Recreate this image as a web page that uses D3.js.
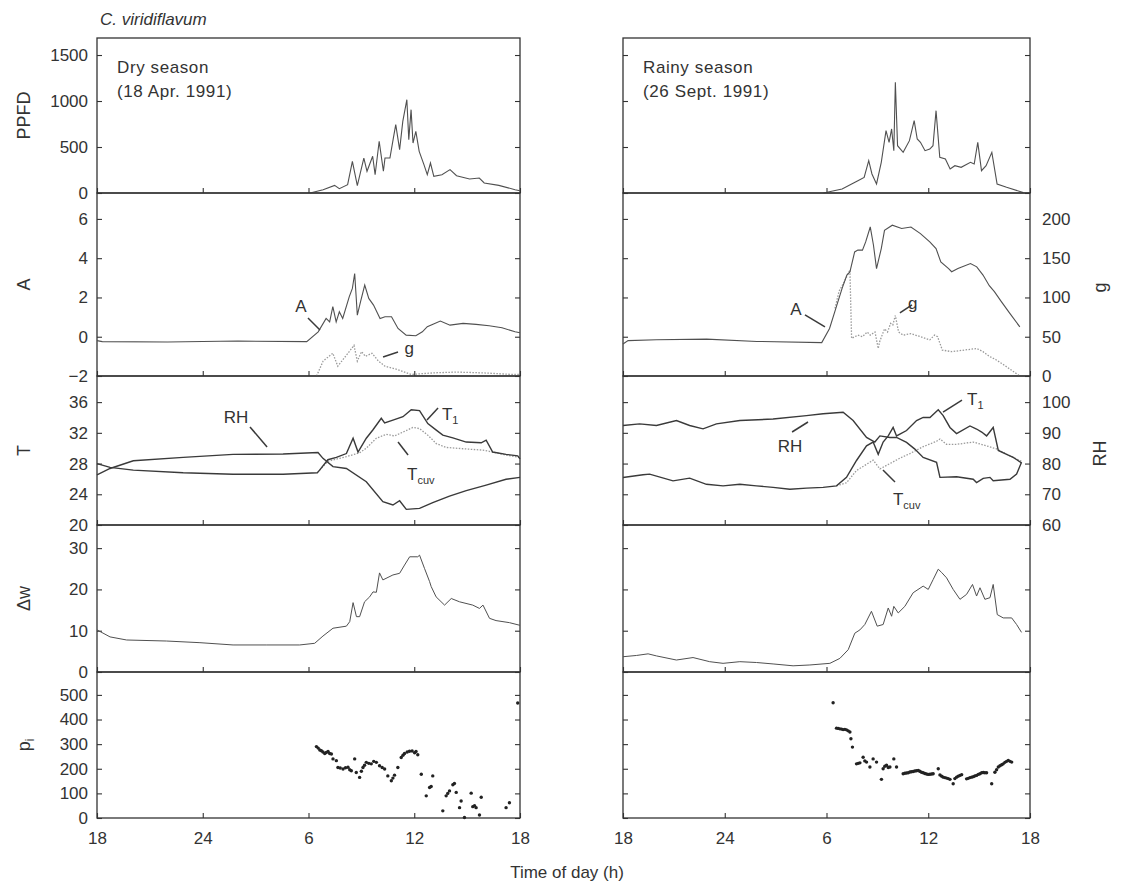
<!DOCTYPE html>
<html>
<head>
<meta charset="utf-8">
<script src="https://cdn.jsdelivr.net/npm/d3@7"></script>
<style>
  body { margin: 0; background: #fff; }
  text { font-family: "Liberation Sans", Arial, sans-serif; fill: #333; }
</style>
</head>
<body>
<svg width="1146" height="888"></svg>
<script>
// time is in hours since 18:00 of the first day (0..24)
const xTicks = [0, 6, 12, 18, 24];
const xTickLabels = ["18", "24", "6", "12", "18"];

// ---- dry season (18 Apr. 1991)
const dryPPFD = [[12.09,0],[12.83,36],[13.48,83],[13.75,47],[14.22,91],[14.49,344],[14.77,80],[15.14,380],[15.32,236],[15.64,399],[15.78,199],[16.01,562],[16.25,236],[16.34,380],[16.62,380],[16.8,580],[16.95,743],[17.17,471],[17.35,779],[17.58,1014],[17.69,580],[17.82,906],[17.93,543],[18.09,670],[18.28,453],[18.55,308],[18.74,199],[18.92,326],[19.11,181],[19.57,199],[20.03,254],[20.4,188],[21.14,152],[21.69,163],[21.97,109],[22.8,83],[23.72,36],[24,25]];
const dryA = [[0,-0.2],[0.3,-0.25],[4,-0.27],[8,-0.22],[11.9,-0.25],[12.55,0.25],[13.0,0.93],[13.2,0.76],[13.38,1.53],[13.57,0.76],[13.75,1.27],[13.94,0.93],[14.31,2.03],[14.49,2.46],[14.62,3.22],[14.77,1.1],[14.95,1.78],[15.19,2.63],[15.42,1.95],[15.69,1.61],[16.06,0.93],[16.34,1.02],[16.71,1.02],[17.08,0.42],[17.54,0.08],[18.09,0.05],[18.46,0.25],[18.74,0.51],[19.48,0.8],[20.03,0.59],[20.77,0.68],[21.51,0.63],[22.25,0.56],[22.98,0.46],[23.72,0.25],[24,0.2]];
const dryG = [[12.46,0],[12.83,19],[13.38,29],[13.66,12.5],[14.03,23],[14.31,31],[14.58,39],[14.77,19],[15.01,31],[15.23,25],[15.6,29],[15.97,19],[16.34,12.5],[17.08,8],[17.82,2],[19.11,4],[20.4,5],[21.88,4],[23.54,2],[24,2]];
const dryT1 = [[0,28.0],[0.74,27.5],[2.06,27.15],[4.89,26.8],[7.72,26.6],[10.56,26.6],[12.5,26.8],[12.63,27.15],[13.1,28.5],[13.58,28.8],[14.15,29.3],[14.53,31.3],[14.81,29.5],[15.28,31.3],[15.66,32.4],[16.13,33.9],[16.32,33.3],[16.79,33.65],[17.36,34.1],[17.83,35.0],[18.3,34.9],[18.77,33.2],[19.25,32.35],[19.62,31.7],[20.19,31.35],[20.95,30.8],[21.8,30.7],[22.08,31.05],[22.45,29.5],[23.21,29.2],[23.87,29.0],[24,28.6]];
const dryTcuv = [[12.63,27.15],[13.1,28.3],[14.15,28.9],[14.9,29.4],[15.28,30.0],[15.85,31.3],[16.41,31.8],[16.88,31.6],[17.36,32.1],[17.92,32.7],[18.3,32.55],[18.77,31.7],[19.25,30.6],[19.81,30.1],[20.95,29.9],[21.9,29.75],[22.45,29.5],[23.21,29.1],[24,28.8]];
const dryRH = [[0,76.3],[0.74,78.4],[2.06,80.9],[4.89,82.0],[7.72,83.0],[10.56,83.1],[12.54,83.6],[12.82,81.7],[13.39,79.0],[14.15,78.4],[15.28,74.1],[16.22,67.6],[16.79,66.5],[17.17,67.9],[17.55,65.1],[18.3,65.4],[19.05,67.3],[20.0,69.4],[20.95,71.2],[22.08,73.0],[23.21,74.9],[24,75.5]];
const dryDw = [[0,10.2],[0.74,8.5],[1.68,7.75],[3.95,7.5],[5.84,7.1],[7.72,6.55],[9.6,6.55],[11.5,6.55],[12.35,6.95],[12.82,8.7],[13.39,10.6],[14.15,11.1],[14.34,12.2],[14.53,16.8],[14.72,13.4],[14.9,13.4],[15.18,17.0],[15.47,18.2],[15.66,19.4],[15.85,19.3],[16.03,24.0],[16.22,22.3],[16.79,23.5],[17.17,23.9],[17.45,25.9],[17.74,27.9],[18.2,27.9],[18.3,28.3],[18.58,25.1],[18.87,21.9],[18.96,20.7],[19.24,18.2],[19.72,16.2],[20.1,17.8],[20.57,17.0],[21.32,16.2],[21.7,15.4],[21.9,16.2],[22.27,13.0],[22.64,12.45],[23.4,11.95],[24,11.3]];
const dryPi = [[12.45,290],[12.55,284],[12.64,276],[12.73,273],[12.82,268],[12.92,262],[13.01,266],[13.11,270],[13.2,262],[13.3,260],[13.39,240],[13.58,233],[13.67,205],[13.8,203],[13.96,199],[14.1,204],[14.24,206],[14.34,196],[14.43,192],[14.62,240],[14.71,185],[14.9,165],[15.0,190],[15.09,205],[15.18,214],[15.28,226],[15.42,222],[15.56,220],[15.7,230],[15.85,226],[16.03,212],[16.18,205],[16.32,199],[16.5,171],[16.7,151],[16.79,162],[16.88,174],[17.07,205],[17.26,246],[17.36,255],[17.45,262],[17.6,268],[17.73,271],[17.88,272],[18.02,265],[18.1,270],[18.2,257],[18.4,178],[18.68,90],[18.87,124],[18.96,128],[19.05,171],[19.62,29],[19.81,90],[19.9,100],[20.0,110],[20.19,135],[20.28,140],[20.38,104],[20.57,42],[20.66,69],[20.85,2],[21.23,101],[21.32,46],[21.42,50],[21.51,42],[21.7,12],[21.8,84],[23.21,42],[23.4,62],[23.87,467]];

// ---- rainy season (26 Sept. 1991)
const rainyPPFD = [[11.82,0],[12.92,43],[13.85,134],[14.22,170],[14.49,351],[14.68,207],[14.95,98],[15.23,333],[15.51,678],[15.69,551],[15.84,696],[15.97,460],[16.06,1203],[16.19,514],[16.52,442],[16.89,569],[17.17,786],[17.35,587],[17.54,551],[17.81,460],[18.09,478],[18.28,514],[18.46,895],[18.68,388],[19.01,370],[19.29,261],[19.57,297],[19.94,279],[20.49,333],[20.71,315],[20.92,551],[21.14,243],[21.41,297],[21.75,442],[22.06,98],[22.62,62],[23.6,5]];
const rainyA = [[0,-0.37],[0.3,-0.2],[1.98,-0.15],[4.93,-0.12],[7.9,-0.24],[11.72,-0.3],[12.18,0.42],[12.55,1.44],[12.92,2.46],[13.2,3.14],[13.38,3.3],[13.66,4.32],[13.85,4.41],[14.12,4.41],[14.31,4.83],[14.58,5.59],[14.77,4.66],[14.95,3.47],[15.23,4.49],[15.42,5.42],[15.88,5.68],[16.43,5.51],[16.98,5.59],[17.54,5.25],[18.09,4.83],[18.46,4.49],[18.74,3.81],[19.2,3.47],[19.38,3.31],[19.75,3.47],[20.49,3.73],[20.86,3.56],[21.23,3.14],[21.6,2.6],[21.9,2.3],[22.3,1.8],[22.8,1.2],[23.4,0.5]];
const rainyG = [[12.5,86],[12.74,108],[13.0,118],[13.38,135],[13.48,48],[13.85,52],[14.12,50],[14.4,56],[14.58,52],[14.86,56],[15.05,35],[15.14,44],[15.42,60],[15.6,56],[15.78,67],[15.91,65],[16.06,77],[16.25,56],[16.52,52],[16.98,54],[17.54,50],[18.09,46],[18.37,52],[18.55,50],[18.83,33],[19.38,31],[20.12,33],[20.86,35],[21.23,31],[21.6,25],[21.97,21],[22.4,15],[23.4,0]];
const rainyT1 = [[0,26.19],[1.18,26.54],[1.57,26.62],[2.95,25.75],[3.93,26.1],[4.92,25.3],[5.9,25.1],[6.89,25.3],[7.87,25.1],[8.85,24.9],[9.84,24.65],[10.82,24.8],[11.8,24.9],[12.59,25.1],[13.18,26.2],[13.77,28.4],[14.36,30.3],[14.75,30.8],[15.05,29.2],[15.34,30.8],[15.64,31.6],[15.93,32.7],[16.13,31.6],[16.72,32.3],[17.31,33.6],[17.7,34.0],[18.1,34.0],[18.59,35.0],[18.88,34.25],[19.28,32.7],[19.67,31.9],[20.46,32.9],[20.85,32.5],[21.15,32.1],[21.44,31.6],[21.83,32.7],[22.13,29.7],[22.62,29.2],[23.01,28.8],[23.5,28.1]];
const rainyTcuv = [[12.59,25.1],[13.18,25.5],[13.77,27.1],[14.36,27.9],[14.75,28.45],[15.15,27.3],[15.74,28.0],[16.33,28.7],[16.92,29.3],[17.7,30.2],[18.49,30.9],[18.69,31.2],[19.08,30.5],[19.67,30.5],[20.65,30.8],[21.44,30.3],[22.03,29.9],[22.82,29.0],[23.5,28.3]];
const rainyRH = [[0,92.4],[0.98,92.9],[1.97,92.4],[3.15,94.0],[3.93,92.4],[4.72,91.3],[5.51,92.9],[6.89,94.0],[8.85,94.5],[10.82,95.6],[11.8,96.2],[12.98,96.7],[13.57,94.0],[14.36,88.5],[14.85,87.0],[15.15,89.0],[15.74,88.5],[16.13,88.5],[16.72,86.9],[17.21,84.7],[17.7,82.0],[18.49,80.4],[18.69,75.5],[19.67,75.7],[20.65,74.9],[20.85,73.8],[21.24,75.2],[21.64,75.5],[21.83,74.4],[22.82,74.9],[23.21,76.6],[23.5,80.4]];
const rainyDw = [[0,3.7],[0.79,4.0],[1.48,4.4],[1.97,3.9],[3.15,2.9],[4.13,3.5],[5.11,2.5],[5.9,2.1],[6.89,2.5],[7.87,2.3],[8.85,1.95],[10.03,1.5],[11.02,1.7],[12.2,2.1],[12.79,3.3],[13.28,5.4],[13.67,9.4],[13.97,10.2],[14.26,11.5],[14.65,14.7],[14.99,11.1],[15.34,11.5],[15.64,15.5],[15.84,13.5],[15.97,15.9],[16.23,14.3],[16.62,15.9],[17.11,19.2],[17.7,20.8],[18.0,20.0],[18.29,22.4],[18.59,24.9],[18.79,24.1],[19.08,22.8],[19.47,20.0],[19.87,17.6],[20.26,18.8],[20.61,21.2],[20.85,18.4],[21.05,20.4],[21.34,17.6],[21.64,18.0],[21.83,21.2],[22.07,13.9],[22.42,13.1],[22.92,13.1],[23.21,11.5],[23.5,9.6]];
const rainyPi = [[12.39,468],[12.59,365],[12.69,364],[12.79,362],[12.89,361],[12.98,359],[13.08,360],[13.18,358],[13.28,354],[13.38,349],[13.44,322],[13.53,288],[13.77,220],[13.87,222],[13.97,224],[14.16,247],[14.26,232],[14.36,227],[14.56,207],[14.75,240],[14.95,227],[15.24,157],[15.34,200],[15.44,210],[15.54,214],[15.64,205],[15.74,207],[15.97,240],[16.13,207],[16.52,180],[16.62,182],[16.72,183],[16.82,184],[16.92,187],[17.01,188],[17.11,189],[17.21,191],[17.31,192],[17.41,193],[17.5,190],[17.6,186],[17.7,184],[17.8,181],[17.9,179],[18.0,177],[18.1,178],[18.2,179],[18.29,180],[18.59,200],[18.69,175],[18.79,170],[18.88,166],[18.98,164],[19.08,162],[19.18,160],[19.28,157],[19.47,139],[19.57,160],[19.67,166],[19.77,170],[19.87,173],[19.97,176],[20.26,159],[20.36,161],[20.46,164],[20.56,166],[20.66,168],[20.75,171],[20.85,173],[20.95,177],[21.05,180],[21.15,184],[21.25,185],[21.34,184],[21.44,184],[21.74,139],[21.93,186],[22.03,196],[22.13,207],[22.23,212],[22.33,216],[22.42,220],[22.52,226],[22.62,230],[22.72,234],[22.82,230],[22.92,227]];

const svg = d3.select("svg");
const ink = "#333";
const lineInk = "#505050";
const darkInk = "#3a3a3a";
const dotInk = "#9a9a9a";

// panel rows (vertical layout is shared by both columns)
const rows = [
  {key: "ppfd", top: 38,  bottom: 193, domain: [0, 1685],   ticks: [0, 500, 1000, 1500], label: "PPFD"},
  {key: "A",    top: 193, bottom: 376, domain: [-2, 7.32],  ticks: [-2, 0, 2, 4, 6], label: "A",
   right: {domain: [0, 233], ticks: [0, 50, 100, 150, 200], label: "g"}},
  {key: "T",    top: 376, bottom: 525, domain: [20, 39.4],  ticks: [20, 24, 28, 32, 36], label: "T",
   right: {domain: [60, 108.5], ticks: [60, 70, 80, 90, 100], label: "RH"}},
  {key: "dw",   top: 525, bottom: 672, domain: [0, 35.6],   ticks: [0, 10, 20, 30], label: "Δw"},
  {key: "pi",   top: 672, bottom: 818, domain: [0, 593],    ticks: [0, 100, 200, 300, 400, 500], label: "p"}
];

const cols = [
  {side: "left", x0: 97, x1: 520,
   series: {ppfd: dryPPFD, A: dryA, g: dryG, T1: dryT1, Tcuv: dryTcuv, RH: dryRH, dw: dryDw, pi: dryPi},
   title: ["Dry season", "(18 Apr. 1991)"],
   notes: {
     A:  [{text: "A", t: 11.57, v: 1.26, anchor: "middle", from: [11.97, 0.95], to: [12.65, 0.34]},
          {text: "g", t: 17.45, v: -0.88, anchor: "start", from: [16.23, -1.03], to: [17.08, -0.78]}],
     T:  [{text: "RH", t: 7.89, v: 33.28, anchor: "middle", from: [8.68, 32.76], to: [9.65, 30.16]},
          {text: "T", sub: "1", t: 19.57, v: 33.67, anchor: "start", from: [18.72, 33.67], to: [19.35, 35.23]},
          {text: "T", sub: "cuv", t: 17.59, v: 25.86, anchor: "start", from: [17.08, 30.81], to: [17.65, 29.11]}]
   }},
  {side: "right", x0: 623, x1: 1030,
   series: {ppfd: rainyPPFD, A: rainyA, g: rainyG, T1: rainyT1, Tcuv: rainyTcuv, RH: rainyRH, dw: rainyDw, pi: rainyPi},
   title: ["Rainy season", "(26 Sept. 1991)"],
   notes: {
     A:  [{text: "A", t: 10.2, v: 1.11, anchor: "middle", from: [10.73, 1.11], to: [11.91, 0.5]},
          {text: "g", t: 16.81, v: 1.41, anchor: "start", from: [16.33, 1.21], to: [17.04, 1.62]}],
     T:  [{text: "T", sub: "1", t: 20.29, v: 35.63, anchor: "start", from: [18.87, 34.71], to: [19.99, 36.27]},
          {text: "RH", t: 9.85, v: 29.5, anchor: "middle", from: [9.97, 32.11], to: [10.91, 33.41]},
          {text: "T", sub: "cuv", t: 15.92, v: 22.6, anchor: "start", from: [15.33, 27.16], to: [16.04, 25.6]}]
   }}
];

const fmtMinus = d3.format("d");

function styleAxis(g) {
  g.select(".domain").remove();
  g.selectAll(".tick line").attr("stroke", ink).attr("stroke-width", 1.1);
  g.selectAll(".tick text").attr("fill", ink).style("font-size", "17px")
    .style("font-family", '"Liberation Sans", Arial, sans-serif');
}

cols.forEach(col => {
  const x = d3.scaleLinear().domain([0, 24]).range([col.x0, col.x1]);
  const line = (ys) => d3.line().x(d => x(d[0])).y(d => ys(d[1]));

  rows.forEach((row, ri) => {
    const y = d3.scaleLinear().domain(row.domain).range([row.bottom, row.top]);
    const yR = row.right ? d3.scaleLinear().domain(row.right.domain).range([row.bottom, row.top]) : null;
    const g = svg.append("g").attr("class", "panel-" + row.key);

    // left ticks (labels only on left column)
    g.append("g")
      .attr("transform", `translate(${col.x0},0)`)
      .call(d3.axisLeft(y).tickValues(row.ticks).tickSize(-5).tickPadding(9)
        .tickFormat(col.side === "left" ? fmtMinus : ""))
      .call(styleAxis);

    // right side ticks
    if (col.side === "right" && yR) {
      g.append("g")
        .attr("transform", `translate(${col.x1},0)`)
        .call(d3.axisRight(yR).tickValues(row.right.ticks).tickSize(-5).tickPadding(12))
        .call(styleAxis);
      g.append("text")
        .attr("transform", `translate(${col.x1 + 70},${(row.top + row.bottom) / 2 + 3}) rotate(-90)`)
        .attr("text-anchor", "middle").attr("dy", "0.35em")
        .style("font-size", "18px").text(row.right.label);
    } else {
      g.append("g")
        .attr("transform", `translate(${col.x1},0)`)
        .call(d3.axisRight(y).tickValues(row.ticks).tickSize(-5).tickFormat(""))
        .call(styleAxis);
    }

    // bottom ticks
    const last = ri === rows.length - 1;
    g.append("g")
      .attr("transform", `translate(0,${row.bottom})`)
      .call(d3.axisBottom(x).tickValues(xTicks).tickSize(-5).tickPadding(14)
        .tickFormat(last ? (d, i) => xTickLabels[i] : ""))
      .call(styleAxis);

    // frame
    g.append("rect")
      .attr("x", col.x0).attr("y", row.top)
      .attr("width", col.x1 - col.x0).attr("height", row.bottom - row.top)
      .attr("fill", "none").attr("stroke", ink).attr("stroke-width", 1.3);

    // y-axis title (left column only)
    if (col.side === "left") {
      const lt = g.append("text")
        .attr("transform", `translate(24,${(row.top + row.bottom) / 2}) rotate(-90)`)
        .attr("text-anchor", "middle").attr("dy", "0.35em")
        .style("font-size", "18px").text(row.label);
      if (row.key === "pi") {
        lt.append("tspan").attr("dy", "0.3em").style("font-size", "12px").text("i");
      }
    }

    const s = col.series;
    if (row.key === "ppfd") {
      g.append("path").datum(s.ppfd).attr("d", line(y))
        .attr("fill", "none").attr("stroke", lineInk).attr("stroke-width", 1.1);
      col.title.forEach((t, i) => {
        g.append("text").attr("x", col.x0 + 20).attr("y", row.top + 35 + i * 24)
          .style("font-size", "17px").style("letter-spacing", "0.6px").text(t);
      });
    }
    if (row.key === "A") {
      g.append("path").datum(s.g).attr("d", line(yR || d3.scaleLinear().domain([0, 233]).range([row.bottom, row.top])))
        .attr("fill", "none").attr("stroke", dotInk).attr("stroke-width", 1.3).attr("stroke-dasharray", "1.5,1.5");
      g.append("path").datum(s.A).attr("d", line(y))
        .attr("fill", "none").attr("stroke", lineInk).attr("stroke-width", 1.1);
    }
    if (row.key === "T") {
      const yRH = yR || d3.scaleLinear().domain([60, 108.5]).range([row.bottom, row.top]);
      g.append("path").datum(s.Tcuv).attr("d", line(y))
        .attr("fill", "none").attr("stroke", dotInk).attr("stroke-width", 1.3).attr("stroke-dasharray", "1.5,1.5");
      g.append("path").datum(s.T1).attr("d", line(y))
        .attr("fill", "none").attr("stroke", darkInk).attr("stroke-width", 1.4);
      g.append("path").datum(s.RH).attr("d", line(yRH))
        .attr("fill", "none").attr("stroke", darkInk).attr("stroke-width", 1.4);
    }
    if (row.key === "dw") {
      g.append("path").datum(s.dw).attr("d", line(y))
        .attr("fill", "none").attr("stroke", lineInk).attr("stroke-width", 1.0);
    }
    if (row.key === "pi") {
      g.selectAll("circle.pi").data(s.pi).join("circle")
        .attr("class", "pi")
        .attr("cx", d => x(d[0])).attr("cy", d => y(d[1]))
        .attr("r", 1.7).attr("fill", "#222");
    }

    // labelled pointers
    (col.notes[row.key] || []).forEach(n => {
      g.append("line")
        .attr("x1", x(n.from[0])).attr("y1", y(n.from[1]))
        .attr("x2", x(n.to[0])).attr("y2", y(n.to[1]))
        .attr("stroke", darkInk).attr("stroke-width", 1.5);
      const t = g.append("text").attr("x", x(n.t)).attr("y", y(n.v))
        .attr("text-anchor", n.anchor).style("font-size", "17px").text(n.text);
      if (n.sub) t.append("tspan").attr("dy", "4").style("font-size", "11px").text(n.sub);
    });
  });
});

// title and shared x-axis title
svg.append("text").attr("x", 100).attr("y", 25)
  .style("font-size", "17px").style("font-style", "italic").text("C. viridiflavum");
svg.append("text").attr("x", 567).attr("y", 878).attr("text-anchor", "middle")
  .style("font-size", "17px").text("Time of day (h)");
</script>
</body>
</html>
